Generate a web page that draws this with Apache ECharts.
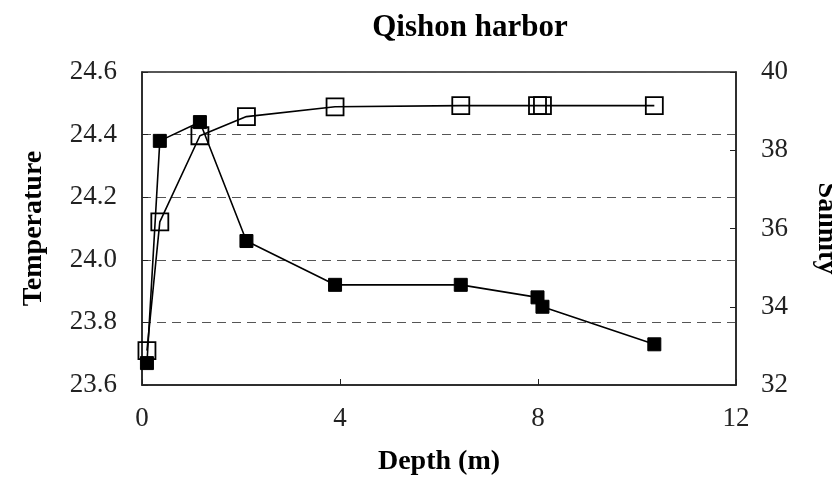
<!DOCTYPE html>
<html>
<head>
<meta charset="utf-8">
<script src="https://cdn.jsdelivr.net/npm/echarts@6/dist/echarts.min.js"></script>
<style>
  html, body { margin: 0; padding: 0; background: #fff; }
  #chart { width: 832px; height: 480px; }
</style>
</head>
<body>
<div id="chart"></div>
<script>
// depth of each sample (m)
var depth = [0.1, 0.36, 1.17, 2.11, 3.9, 6.44, 7.99, 8.09, 10.35];
var temperature = [23.67, 24.38, 24.44, 24.06, 23.92, 23.92, 23.88, 23.85, 23.73];
var salinity = [32.88, 36.17, 38.37, 38.86, 39.11, 39.14, 39.14, 39.14, 39.14];

var xTicks = [0, 4, 8, 12];
var tempTicks = [23.6, 23.8, 24.0, 24.2, 24.4, 24.6];
var salTicks = [32, 34, 36, 38, 40];

function pairs(xs, ys) {
  return xs.map(function (x, i) { return [x, ys[i]]; });
}

var font = "'Liberation Serif', 'Times New Roman', serif";

var chart = echarts.init(document.getElementById("chart"));
chart.setOption({
  animation: false,
  backgroundColor: "#fff",
  title: {
    text: "Qishon harbor",
    left: 465,
    textAlign: "center",
    top: 7,
    textStyle: { fontFamily: font, fontSize: 31, fontWeight: "bold", color: "#000" },
  },
  grid: {
    left: 142,
    right: 96,
    top: 72,
    bottom: 95,
    outerBoundsMode: "none",
    containLabel: false,
    show: true,
    borderColor: "#222",
    borderWidth: 1.5,
  },
  xAxis: {
    type: "value",
    min: 0,
    max: 12,
    interval: 4,
    name: "Depth (m)",
    nameLocation: "middle",
    nameGap: 63,
    nameTextStyle: { fontFamily: font, fontSize: 28, fontWeight: "bold", color: "#000" },
    axisLine: { show: true, lineStyle: { color: "#222", width: 1.5 } },
    axisTick: { show: true, inside: true, length: 6, lineStyle: { color: "#222" } },
    axisLabel: {
      fontFamily: font, fontSize: 27, color: "#222", margin: 20,
      formatter: function (v) { return xTicks.indexOf(v) >= 0 ? String(v) : ""; },
    },
    splitLine: { show: false },
  },
  yAxis: [
    {
      type: "value",
      min: 23.6,
      max: 24.6,
      interval: 0.2,
      name: "Temperature",
      nameLocation: "middle",
      nameRotate: 90,
      nameGap: 94,
      nameTextStyle: { fontFamily: font, fontSize: 28, fontWeight: "bold", color: "#000" },
      axisLine: { show: true, lineStyle: { color: "#222", width: 1.5 } },
      axisTick: { show: true, inside: true, length: 6, lineStyle: { color: "#222" } },
      axisLabel: {
        fontFamily: font, fontSize: 27, color: "#222", margin: 25,
        formatter: function (v) { return v.toFixed(1); },
      },
      splitLine: { show: true, lineStyle: { color: "#555", type: [9, 6], width: 1.2 } },
    },
    {
      type: "value",
      min: 32,
      max: 40,
      interval: 2,
      position: "right",
      name: "Salinity",
      nameLocation: "middle",
      nameRotate: -90,
      nameGap: 76,
      nameTextStyle: { fontFamily: font, fontSize: 28, fontWeight: "bold", color: "#000" },
      axisLine: { show: true, lineStyle: { color: "#222", width: 1.5 } },
      axisTick: { show: true, inside: true, length: 6, lineStyle: { color: "#222" } },
      axisLabel: { fontFamily: font, fontSize: 27, color: "#222", margin: 25 },
      splitLine: { show: false },
    },
  ],
  series: [
    {
      name: "Temperature",
      type: "line",
      yAxisIndex: 0,
      data: pairs(depth, temperature),
      symbol: "rect",
      symbolSize: 13,
      lineStyle: { color: "#000", width: 1.6 },
      itemStyle: { color: "#000", borderColor: "#000", borderWidth: 1 },
      z: 2,
    },
    {
      name: "Salinity",
      type: "line",
      yAxisIndex: 1,
      data: pairs(depth, salinity),
      symbol: "rect",
      symbolSize: 17,
      lineStyle: { color: "#000", width: 1.6 },
      itemStyle: { color: "transparent", borderColor: "#000", borderWidth: 1.8 },
      z: 3,
    },
  ],
});
</script>
</body>
</html>
